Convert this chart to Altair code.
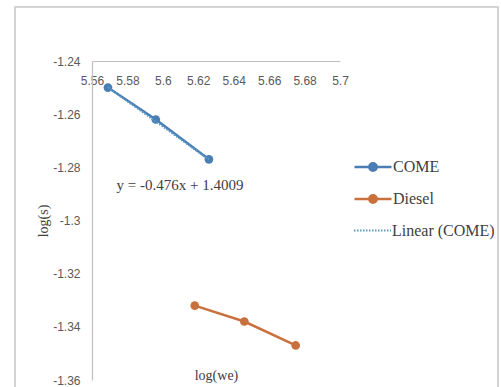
import altair as alt
import pandas as pd

# Measured series (log of engine speed vs. log of specific consumption)
come_x = [5.569, 5.596, 5.626]
come_y = [-1.250, -1.262, -1.277]
diesel_x = [5.618, 5.646, 5.675]
diesel_y = [-1.332, -1.338, -1.347]

# Linear trend of the COME series, as stated by its equation label
slope = -0.476
intercept = 1.4009

series_names = ["COME", "Diesel"]
trend_name = "Linear (COME)"
x_ticks = [5.56, 5.58, 5.60, 5.62, 5.64, 5.66, 5.68, 5.70]
y_ticks = [-1.36, -1.34, -1.32, -1.30, -1.28, -1.26, -1.24]

BLUE = "#4a7db3"
ORANGE = "#c9713d"
TEAL = "#5b9cc4"
TEXT = "#404040"
TICK = "#595959"
SERIF = "Liberation Serif, Times New Roman, serif"
SANS = "Liberation Sans, Arial, sans-serif"

PLOT_W = 248
PLOT_H = 319

points = pd.DataFrame(
    {
        "series": ["COME"] * len(come_x) + ["Diesel"] * len(diesel_x),
        "x": come_x + diesel_x,
        "y": come_y + diesel_y,
    }
)

trend_x = [min(come_x), max(come_x)]
trend = pd.DataFrame(
    {
        "fit": [trend_name] * 2,
        "x": trend_x,
        "y": [slope * v + intercept for v in trend_x],
    }
)

equation = f"y = {slope}x + {intercept}"

x_scale = alt.Scale(domain=[x_ticks[0], x_ticks[-1]], nice=False, zero=False)
y_scale = alt.Scale(domain=[y_ticks[0], y_ticks[-1]], nice=False, zero=False)

label_expr = "replace(format(datum.value, '.3~g'), '\u2212', '-')"

# x axis sits on the top edge (where y = -1.24), labels hanging below it
x_axis = alt.Axis(
    title="log(we)",
    values=x_ticks,
    labelExpr=label_expr,
    orient="bottom",
    offset=-PLOT_H,
    ticks=False,
    grid=False,
    domainColor="#bfbfbf",
    domainWidth=1.2,
    labelFont=SANS,
    labelFontSize=12,
    labelColor=TICK,
    labelPadding=14,
    labelFlush=False,
    labelOverlap=False,
    labelSeparation=0,
    titleFont=SERIF,
    titleFontSize=14,
    titleFontWeight="normal",
    titleColor=TEXT,
    titleY=PLOT_H - 5,
    titleBaseline="middle",
)

y_axis = alt.Axis(
    title="log(s)",
    values=y_ticks,
    labelExpr=label_expr,
    ticks=False,
    grid=False,
    domainColor="#bfbfbf",
    domainWidth=1.2,
    labelFont=SANS,
    labelFontSize=12,
    labelColor=TICK,
    labelPadding=12,
    labelFlush=False,
    labelOverlap=False,
    titleFont=SERIF,
    titleFontSize=14,
    titleFontWeight="normal",
    titleColor=TEXT,
    titlePadding=2,
)

x_enc = alt.X("x:Q", scale=x_scale, axis=x_axis)
y_enc = alt.Y("y:Q", scale=y_scale, axis=y_axis)

# Legend glyph: a short line with a solid dot built from concentric rings
ring = lambda r: f"M{r},0A{r},{r},0,1,1,{-r},0A{r},{r},0,1,1,{r},0"
line_dot = "M-1,0H1" + ring(0.2) + ring(0.12) + ring(0.05)

color_scale = alt.Scale(domain=series_names, range=[BLUE, ORANGE])

frame = (
    alt.Chart(pd.DataFrame({"k": [0]}))
    .mark_rect(filled=False, stroke="#c6c6c6", strokeWidth=1.5)
    .encode(
        x=alt.value(-77),
        x2=alt.value(406),
        y=alt.value(-54),
        y2=alt.value(340),
    )
)

lines = (
    alt.Chart(points)
    .mark_line(strokeWidth=2.5)
    .encode(
        x=x_enc,
        y=y_enc,
        color=alt.Color(
            "series:N",
            scale=color_scale,
            legend=alt.Legend(
                title=None,
                orient="none",
                legendX=261,
                legendY=86,
                symbolType=line_dot,
                symbolSize=1369,
                symbolStrokeWidth=2.5,
                labelFont=SERIF,
                labelFontSize=16,
                labelColor=TEXT,
                labelOffset=0,
                rowPadding=3,
                padding=0,
            ),
        ),
        detail="series:N",
    )
)

dots = (
    alt.Chart(points)
    .mark_circle(size=75, opacity=1)
    .encode(
        x=x_enc,
        y=y_enc,
        color=alt.Color("series:N", scale=color_scale, legend=None),
    )
)

trend_line = (
    alt.Chart(trend)
    .mark_line(color=TEAL, strokeWidth=2)
    .encode(
        x=x_enc,
        y=y_enc,
        strokeDash=alt.StrokeDash(
            "fit:N",
            scale=alt.Scale(domain=[trend_name], range=[[1.5, 1.5]]),
            legend=alt.Legend(
                title=None,
                orient="none",
                legendX=261,
                legendY=150,
                symbolType="stroke",
                symbolSize=1369,
                symbolStrokeWidth=2,
                symbolStrokeColor=TEAL,
                labelFont=SERIF,
                labelFontSize=16,
                labelColor=TEXT,
                labelOffset=0,
                padding=0,
            ),
        ),
    )
)

eq_text = (
    alt.Chart(pd.DataFrame({"t": [equation]}))
    .mark_text(font=SERIF, fontSize=15, color=TEXT, align="center", baseline="middle")
    .encode(x=alt.value(88), y=alt.value(124), text="t:N")
)

chart = (
    alt.layer(frame, lines, dots, trend_line, eq_text)
    .resolve_scale(color="shared")
    .properties(
        width=PLOT_W,
        height=PLOT_H,
        autosize=alt.AutoSizeParams(type="none"),
        padding={"left": 92, "top": 61, "right": 161, "bottom": 7},
        background="white",
    )
    .configure_view(strokeWidth=0)
    .configure_axis(labelOverlap=False)
)

chart.save("out.html", embed_options={"renderer": "svg", "actions": False})
